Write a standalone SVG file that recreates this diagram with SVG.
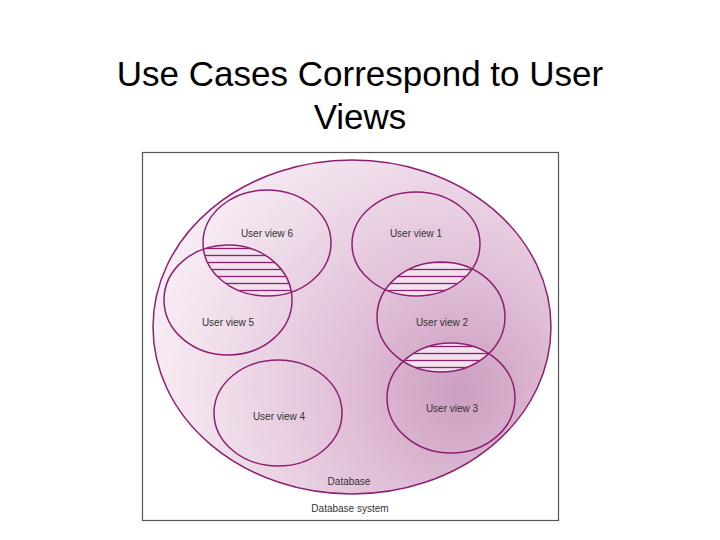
<svg xmlns="http://www.w3.org/2000/svg" width="720" height="540" viewBox="0 0 720 540">
<style>
.v{fill:none;stroke:#8e1f73;stroke-width:1.5}
.t{font-family:"Liberation Sans",Arial,sans-serif;font-size:10px;fill:#333;text-anchor:middle}
.h{fill:url(#hatch)}
.ti{font-family:"Liberation Sans",Arial,sans-serif;font-size:35px;text-anchor:middle;fill:#000}
</style>
<defs>
<radialGradient id="g" cx="460" cy="390" r="330" gradientUnits="userSpaceOnUse">
<stop offset="0" stop-color="#cc9ec0"/>
<stop offset="0.35" stop-color="#e0bfd7"/>
<stop offset="0.75" stop-color="#f0dfeb"/>
<stop offset="1" stop-color="#f9f0f6"/>
</radialGradient>
<pattern id="hatch" width="10" height="7" patternUnits="userSpaceOnUse">
<rect width="10" height="7" fill="#f2e2ee"/>
<line x1="0" y1="3.5" x2="10" y2="3.5" stroke="#8e1f73" stroke-width="1.3"/>
</pattern>
<clipPath id="c5"><ellipse cx="228" cy="300" rx="64" ry="55"/></clipPath>
<clipPath id="c1"><ellipse cx="416" cy="244" rx="64" ry="52"/></clipPath>
<clipPath id="c3"><ellipse cx="451" cy="398" rx="64" ry="55"/></clipPath>
</defs>
<rect width="720" height="540" fill="#fff"/>
<text class="ti" x="360" y="86">Use Cases Correspond to User</text>
<text class="ti" x="360" y="129">Views</text>
<rect x="142.5" y="152.5" width="416" height="368" fill="#fff" stroke="#555" stroke-width="1.2"/>
<g id="database">
<ellipse cx="352" cy="327" rx="199" ry="167" fill="url(#g)" stroke="#8e1f73" stroke-width="1.5"/>
<text class="t" x="349" y="485">Database</text>
</g>
<g id="hatches">
<ellipse class="h" cx="267" cy="243" rx="64" ry="53" clip-path="url(#c5)"/>
<ellipse class="h" cx="441" cy="317" rx="64" ry="55" clip-path="url(#c1)"/>
<ellipse class="h" cx="441" cy="317" rx="64" ry="55" clip-path="url(#c3)"/>
</g>
<g id="view6"><ellipse class="v" cx="267" cy="243" rx="64" ry="53"/><text class="t" x="267" y="237">User view 6</text></g>
<g id="view5"><ellipse class="v" cx="228" cy="300" rx="64" ry="55"/><text class="t" x="228" y="326">User view 5</text></g>
<g id="view1"><ellipse class="v" cx="416" cy="244" rx="64" ry="52"/><text class="t" x="416" y="237">User view 1</text></g>
<g id="view2"><ellipse class="v" cx="441" cy="317" rx="64" ry="55"/><text class="t" x="442" y="326">User view 2</text></g>
<g id="view3"><ellipse class="v" cx="451" cy="398" rx="64" ry="55"/><text class="t" x="452" y="412">User view 3</text></g>
<g id="view4"><ellipse class="v" cx="278" cy="413" rx="64" ry="53"/><text class="t" x="279" y="420">User view 4</text></g>
<text class="t" x="350" y="512" fill="#222">Database system</text>
<g id="connectors"/>
</svg>
